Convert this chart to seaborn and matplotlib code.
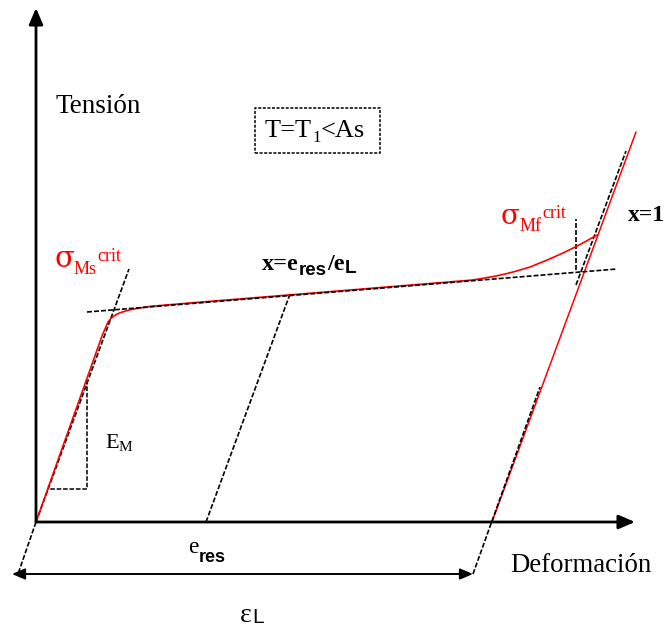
import matplotlib
matplotlib.use("Agg")
import matplotlib.pyplot as plt
import seaborn as sns
import pandas as pd

# ---------------- data (diagram units: strain -> x, stress -> y) ----------------
# loading curve (red)
load_eps = [0, 66, 69, 72, 74.5, 77, 80, 84, 89, 94, 104, 114, 150, 250, 350, 437,
            460, 470, 480, 494, 510, 518, 527, 536, 545, 553, 561]
load_sig = [0, 186, 193, 200, 203, 205.3, 207.3, 209.2, 210.8, 212.2, 214.0, 215.6, 218.7,
            226.8, 234.9, 242.0, 246.0, 248.2, 250.8, 255, 261.5, 265, 269, 273.4, 278, 282.4, 287]
# final elastic branch (red)
final_eps = [456, 600]
final_sig = [0, 390]
# tangent / construction lines (black dashed)
tan_elastic_eps = [0, 93]
tan_elastic_sig = [0, 253]
tan_plateau_eps = [51, 581]
tan_plateau_sig = [210, 253]
tan_final_eps = [540, 590]
tan_final_sig = [237, 371]
mark_mf_eps = [540, 540]
mark_mf_sig = [252, 303]
unload_mid_eps = [170, 254]
unload_mid_sig = [0, 228]
unload_end_eps = [437, 504]
unload_end_sig = [-52, 135]
ext_left_eps = [0, -18]
ext_left_sig = [0, -52]
tri_eps = [51, 51, 11]
tri_sig = [142, 33, 33]
# axes / arrows
axis_origin = (0, 0)
axis_y_tip = (0, 514)
axis_x_tip = (599, 0)
eL_left = (-24, -52)
eL_right = (437, -52)
# annotation box
box_x = [219, 344]
box_y = [369, 414]

# ---------------- figure ----------------
sns.set_style("white")
SERIF = ["Liberation Serif", "DejaVu Serif"]
GREEK = ["DejaVu Serif"]
SANS = ["Liberation Sans", "DejaVu Sans"]
plt.rcParams["font.family"] = SERIF

fig = plt.figure(figsize=(6.67, 6.28), dpi=100)
ax = fig.add_axes([0, 0, 1, 1])
ax.set_xlim(-36, 631)
ax.set_ylim(-106, 522)
ax.axis("off")

DASH = (0, (3, 1.2))


def seg(xs, ys, color="black", lw=1.2, ls=DASH, z=2):
    df = pd.DataFrame({"x": xs, "y": ys})
    sns.lineplot(data=df, x="x", y="y", sort=False, estimator=None, ax=ax,
                 color=color, linewidth=lw, linestyle=ls, zorder=z)


# construction lines
seg(tan_elastic_eps, tan_elastic_sig)
seg(tan_plateau_eps, tan_plateau_sig, z=4)
seg(tan_final_eps, tan_final_sig)
seg(mark_mf_eps, mark_mf_sig)
seg(unload_mid_eps, unload_mid_sig)
seg(ext_left_eps, ext_left_sig)
seg(tri_eps, tri_sig, lw=1.1)

# red curves
seg(load_eps, load_sig, color="red", lw=1.2, ls="-", z=3)
seg(final_eps, final_sig, color="red", lw=1.1, ls="-", z=3)
seg(unload_end_eps, unload_end_sig, lw=1.2, z=4)

ax.set_xlabel("")
ax.set_ylabel("")
ax.set_xlim(-36, 631)
ax.set_ylim(-106, 522)

# axes arrows
ax.annotate("", xy=axis_y_tip, xytext=axis_origin,
            arrowprops=dict(arrowstyle="-|>,head_length=0.7,head_width=0.3",
                            lw=2, color="black", mutation_scale=14,
                            shrinkA=0, shrinkB=0), zorder=5)
ax.annotate("", xy=axis_x_tip, xytext=axis_origin,
            arrowprops=dict(arrowstyle="-|>,head_length=0.7,head_width=0.3",
                            lw=2, color="black", mutation_scale=14,
                            shrinkA=0, shrinkB=0), zorder=5)
ax.annotate("", xy=eL_right, xytext=eL_left,
            arrowprops=dict(arrowstyle="<|-|>,head_length=0.7,head_width=0.3",
                            lw=1.4, color="black", mutation_scale=11,
                            shrinkA=0, shrinkB=0), zorder=5)

# dashed box
ax.add_patch(plt.Rectangle((box_x[0], box_y[0]), box_x[1] - box_x[0], box_y[1] - box_y[0],
                           fill=False, ec="black", lw=1.1, ls=(0, (2, 1))))

renderer = fig.canvas.get_renderer()


def rich(x, y, parts):
    for s, size, fam, weight, color, dy in parts:
        t = ax.text(x, y + dy, s, fontsize=size, family=fam, weight=weight,
                    color=color, va="baseline", ha="left")
        bb = t.get_window_extent(renderer)
        x += bb.width


# labels (x in diagram units = px-36, y = 522-py)
rich(19, 409, [("Tensión", 19.5, SERIF, "normal", "black", 0)])
rich(474, -50, [("Deformación", 19.3, SERIF, "normal", "black", 0)])
rich(229, 385, [("T=T", 19, SERIF, "normal", "black", 0),
                ("1", 12, SERIF, "normal", "black", -5),
                ("<As", 19, SERIF, "normal", "black", 0)])
rich(18, 255, [("σ", 21, GREEK, "normal", "red", 0),
               ("Ms", 13, SERIF, "normal", "red", -7),
               ("crit", 13, SERIF, "normal", "red", 6)])
rich(465, 298, [("σ", 20, GREEK, "normal", "red", 0),
                ("Mf", 13, SERIF, "normal", "red", -7),
                ("crit", 13, SERIF, "normal", "red", 6)])
rich(226, 252, [("x=e", 17.5, SERIF, "bold", "black", 0),
                ("res", 13.5, SANS, "bold", "black", -5),
                ("/e", 17.5, SERIF, "bold", "black", 0),
                ("L", 13.5, SANS, "bold", "black", -3)])
rich(592, 301, [("x=1", 17, SERIF, "bold", "black", 0)])
rich(69, 74, [("E", 16, SERIF, "normal", "black", 0),
              ("M", 11, SERIF, "normal", "black", -3)])
rich(152, -31, [("e", 17, SERIF, "normal", "black", 0),
                ("res", 13, SANS, "bold", "black", -9)])
rich(204, -100, [("ε", 20, SERIF, "normal", "black", 0),
                 ("L", 15, SANS, "normal", "black", -1)])

fig.savefig("out.png", dpi=100)
